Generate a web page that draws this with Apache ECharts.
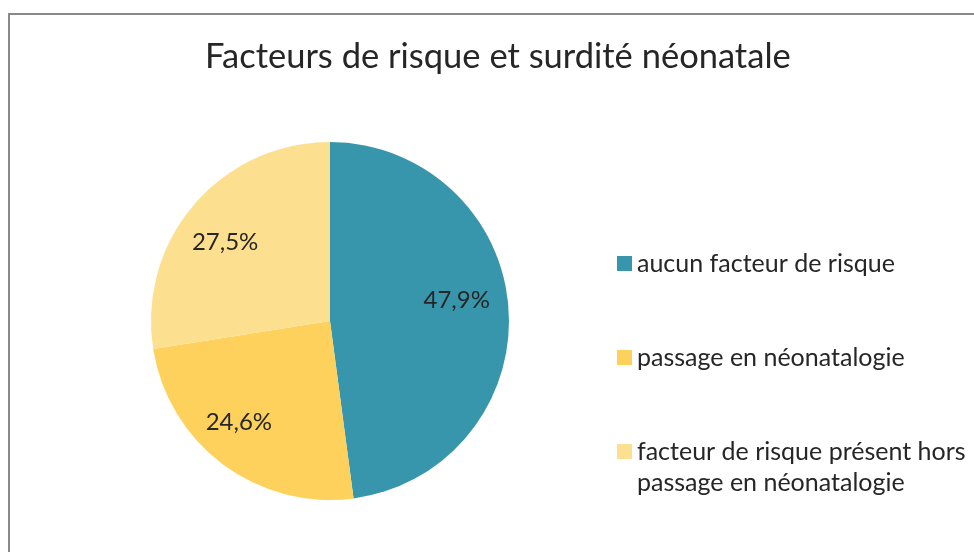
<!DOCTYPE html>
<html>
<head>
<meta charset="utf-8">
<script src="https://cdn.jsdelivr.net/npm/echarts@6/dist/echarts.min.js"></script>
<style>
html,body{margin:0;padding:0;background:#fff;}
#chart{width:974px;height:552px;}
</style>
</head>
<body>
<div id="chart"></div>
<script>
const titleText = 'Facteurs de risque et surdité néonatale';
const categories = ['aucun facteur de risque', 'passage en néonatalogie', 'facteur de risque présent hors passage en néonatalogie'];
const legendLabels = ['aucun facteur de risque', 'passage en néonatalogie', 'facteur de risque présent hors\npassage en néonatalogie'];
const values = [47.9, 24.6, 27.5];
const colors = ['#3796AC', '#FDD15C', '#FCE08F'];
// small label nudges (style only), mimicking the spreadsheet's "best fit" placement
const labelNudgeX = [-7, -11, -3];
const labelNudgeY = [-12, -6, 8];

const FONT = 'Lato';
const chart = echarts.init(document.getElementById('chart'), null, {renderer: 'canvas'});
const pieData = categories.map((c, i) => ({name: c, value: values[i], itemStyle: {color: colors[i]}}));
const labelData = categories.map((c, i) => ({name: c, value: values[i], itemStyle: {color: 'rgba(0,0,0,0)'}}));
const fmtPct = v => v.toFixed(1).replace('.', ',') + '%';

chart.setOption({
  animation: false,
  backgroundColor: '#fff',
  title: {
    text: titleText,
    left: 205,
    top: 39,
    padding: 0,
    textStyle: {fontFamily: FONT, fontSize: 34.5, fontWeight: 'normal', color: '#262626'}
  },
  legend: {
    orient: 'vertical',
    left: 617,
    top: 217,
    padding: 0,
    itemWidth: 15,
    itemHeight: 15,
    itemGap: 1,
    icon: 'rect',
    data: categories,
    formatter: name => {
      const i = categories.indexOf(name);
      const t = legendLabels[i];
      return t.indexOf('\n') >= 0 ? '\n' + t : '\n' + t + '\n';
    },
    textStyle: {fontFamily: FONT, fontSize: 25, color: '#262626', lineHeight: 31}
  },
  graphic: [{
    type: 'rect',
    shape: {x: 9, y: 14, width: 1000, height: 600},
    style: {fill: 'none', stroke: '#898989', lineWidth: 2},
    silent: true
  }],
  series: [{
    type: 'pie',
    center: [330, 321],
    radius: [0, 179],
    startAngle: 90,
    clockwise: true,
    label: {show: false},
    labelLine: {show: false},
    emphasis: {disabled: true},
    data: pieData
  }, {
    type: 'pie',
    center: [330, 321],
    radius: [0, 262],
    startAngle: 90,
    clockwise: true,
    silent: true,
    label: {
      show: true,
      position: 'inside',
      formatter: p => fmtPct(p.value),
      fontFamily: FONT,
      fontSize: 24,
      color: '#262626'
    },
    labelLayout: p => ({dx: labelNudgeX[p.dataIndex], dy: labelNudgeY[p.dataIndex]}),
    labelLine: {show: false},
    emphasis: {disabled: true},
    data: labelData
  }]
});
</script>
</body>
</html>
